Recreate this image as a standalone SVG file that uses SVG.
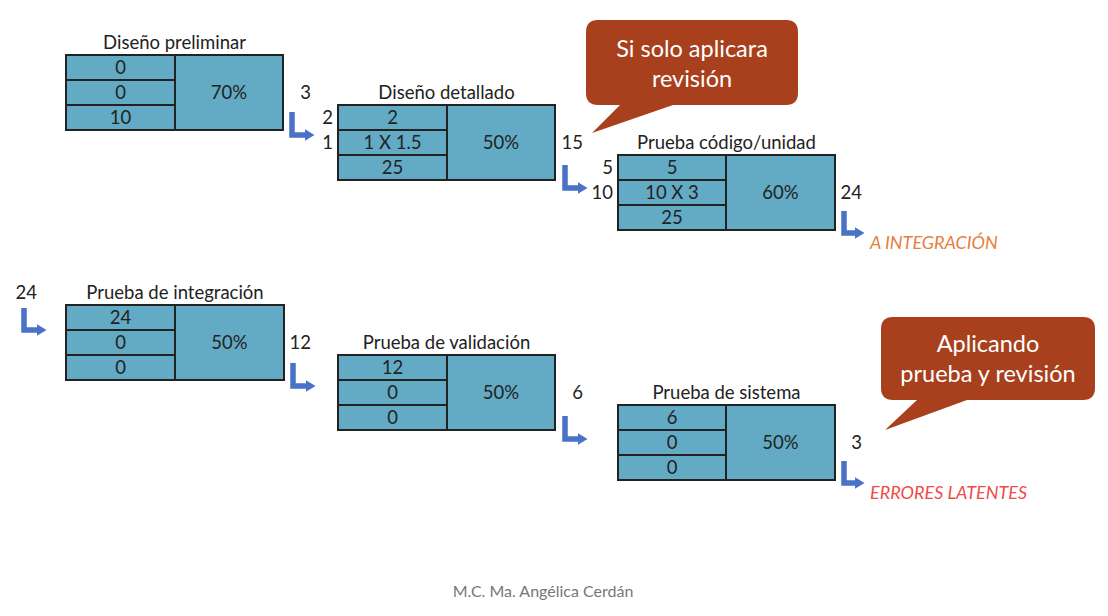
<svg xmlns="http://www.w3.org/2000/svg" width="1108" height="616" viewBox="0 0 1108 616">
<defs>
<marker id="ah" viewBox="0 0 10 12" refX="0.5" refY="6" markerWidth="10" markerHeight="12" orient="auto" markerUnits="userSpaceOnUse">
<path d="M0,0 L10,6 L0,12 Z" fill="#4A72C6"/>
</marker>
</defs>
<style>
.box{fill:#63AAC5;stroke:#222;stroke-width:2}
.ln{stroke:#222;stroke-width:2}
.t{font-family:Lato,"Liberation Sans",sans-serif;font-size:18.5px;fill:#222}
.c{text-anchor:middle}
.e{text-anchor:end}
.arr{fill:none;stroke:#4A72C6;stroke-width:5.5;stroke-linejoin:miter}
.call{fill:#A8401E}
.ct{font-family:Lato,"Liberation Sans",sans-serif;font-size:23.5px;fill:#fff;text-anchor:middle}
.note{font-family:Lato,"Liberation Sans",sans-serif;font-size:18px;font-style:italic}
</style>
<rect width="1108" height="616" fill="#fff"/>

<g id="diseno-preliminar">
<text class="t c" x="174.5" y="49">Diseño preliminar</text>
<rect class="box" x="66" y="55" width="217" height="75"/>
<line class="ln" x1="175" y1="55" x2="175" y2="130"/>
<line class="ln" x1="66" y1="80" x2="175" y2="80"/>
<line class="ln" x1="66" y1="105" x2="175" y2="105"/>
<text class="t c" x="120.5" y="74">0</text>
<text class="t c" x="120.5" y="99">0</text>
<text class="t c" x="120.5" y="124">10</text>
<text class="t c" x="229" y="99">70%</text>
<text class="t e" x="311" y="99">3</text>
</g>

<g id="diseno-detallado">
<text class="t c" x="446.5" y="99">Diseño detallado</text>
<rect class="box" x="338" y="105" width="217" height="75"/>
<line class="ln" x1="447" y1="105" x2="447" y2="180"/>
<line class="ln" x1="338" y1="130" x2="447" y2="130"/>
<line class="ln" x1="338" y1="155" x2="447" y2="155"/>
<text class="t c" x="392.5" y="124">2</text>
<text class="t c" x="392.5" y="149">1 X 1.5</text>
<text class="t c" x="392.5" y="174">25</text>
<text class="t c" x="501" y="149">50%</text>
<text class="t e" x="333" y="124">2</text>
<text class="t e" x="333" y="149">1</text>
<text class="t e" x="583" y="149">15</text>
</g>

<g id="prueba-codigo-unidad">
<text class="t c" x="726.5" y="149">Prueba código/unidad</text>
<rect class="box" x="618" y="155" width="217" height="75"/>
<line class="ln" x1="726" y1="155" x2="726" y2="230"/>
<line class="ln" x1="618" y1="180" x2="726" y2="180"/>
<line class="ln" x1="618" y1="205" x2="726" y2="205"/>
<text class="t c" x="672" y="174">5</text>
<text class="t c" x="672" y="199">10 X 3</text>
<text class="t c" x="672" y="224">25</text>
<text class="t c" x="780.5" y="199">60%</text>
<text class="t e" x="613" y="174">5</text>
<text class="t e" x="613" y="199">10</text>
<text class="t e" x="862" y="199">24</text>
<text class="note" x="870" y="249" fill="#E57F3E">A INTEGRACIÓN</text>
</g>

<g id="prueba-integracion">
<text class="t e" x="37" y="299">24</text>
<text class="t c" x="175" y="299">Prueba de integración</text>
<rect class="box" x="66" y="305" width="218" height="75"/>
<line class="ln" x1="175" y1="305" x2="175" y2="380"/>
<line class="ln" x1="66" y1="330" x2="175" y2="330"/>
<line class="ln" x1="66" y1="355" x2="175" y2="355"/>
<text class="t c" x="120.5" y="324">24</text>
<text class="t c" x="120.5" y="349">0</text>
<text class="t c" x="120.5" y="374">0</text>
<text class="t c" x="229.5" y="349">50%</text>
<text class="t e" x="311" y="349">12</text>
</g>

<g id="prueba-validacion">
<text class="t c" x="446.5" y="349">Prueba de validación</text>
<rect class="box" x="338" y="355" width="217" height="75"/>
<line class="ln" x1="447" y1="355" x2="447" y2="430"/>
<line class="ln" x1="338" y1="380" x2="447" y2="380"/>
<line class="ln" x1="338" y1="405" x2="447" y2="405"/>
<text class="t c" x="392.5" y="374">12</text>
<text class="t c" x="392.5" y="399">0</text>
<text class="t c" x="392.5" y="424">0</text>
<text class="t c" x="501" y="399">50%</text>
<text class="t e" x="583" y="399">6</text>
</g>

<g id="prueba-sistema">
<text class="t c" x="726.5" y="399">Prueba de sistema</text>
<rect class="box" x="618" y="405" width="217" height="75"/>
<line class="ln" x1="726" y1="405" x2="726" y2="480"/>
<line class="ln" x1="618" y1="430" x2="726" y2="430"/>
<line class="ln" x1="618" y1="455" x2="726" y2="455"/>
<text class="t c" x="672" y="424">6</text>
<text class="t c" x="672" y="449">0</text>
<text class="t c" x="672" y="474">0</text>
<text class="t c" x="780.5" y="449">50%</text>
<text class="t e" x="862" y="449">3</text>
<text class="note" x="870" y="499" fill="#F04B4B">ERRORES LATENTES</text>
</g>

<g id="connectors">
<path class="arr" d="M292,112 V135 H305" marker-end="url(#ah)"/>
<path class="arr" d="M565,165 V188 H578" marker-end="url(#ah)"/>
<path class="arr" d="M844,211 V233 H855" marker-end="url(#ah)"/>
<path class="arr" d="M24,308 V330 H37" marker-end="url(#ah)"/>
<path class="arr" d="M293,363 V386 H306" marker-end="url(#ah)"/>
<path class="arr" d="M565,416 V439 H578" marker-end="url(#ah)"/>
<path class="arr" d="M844,461 V483 H855" marker-end="url(#ah)"/>
</g>

<g id="callout-revision">
<path class="call" d="M598,20 H786 Q798,20 798,32 V93 Q798,105 786,105 H673 L592,133 L620,105 H598 Q586,105 586,93 V32 Q586,20 598,20 Z"/>
<text class="ct" x="692" y="57">Si solo aplicara</text>
<text class="ct" x="692" y="87">revisión</text>
</g>

<g id="callout-prueba">
<path class="call" d="M893,317 H1083 Q1095,317 1095,329 V388 Q1095,400 1083,400 H967 L885,430 L917,400 H893 Q881,400 881,388 V329 Q881,317 893,317 Z"/>
<text class="ct" x="988" y="352">Aplicando</text>
<text class="ct" x="988" y="382">prueba y revisión</text>
</g>

<text x="543" y="597" font-family="Lato,'Liberation Sans',sans-serif" font-size="16" fill="#777" text-anchor="middle">M.C. Ma. Angélica Cerdán</text>
</svg>
